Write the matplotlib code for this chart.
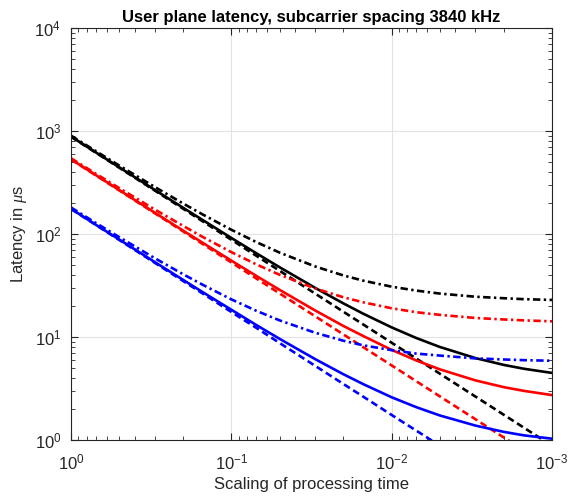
import numpy as np
import matplotlib
matplotlib.use('Agg')
import matplotlib.pyplot as plt

# scaling of processing time
scale = [1, 0.7, 0.5, 0.3, 0.2, 0.15, 0.1, 0.07, 0.05, 0.03, 0.02, 0.015,
         0.01, 0.007, 0.005, 0.003, 0.002, 0.0015, 0.001]

# latency in us
black_solid = [884, 620, 444, 268, 180, 136, 91.6, 65.2, 47.6, 30.0, 21.2, 16.8,
               12.4, 9.76, 8.0, 6.24, 5.36, 4.92, 4.48]
black_dash = [880, 616, 440, 264, 176, 132, 88, 61.6, 44, 26.4, 17.6, 13.2,
              8.8, 6.16, 4.4, 2.64, 1.76, 1.32, 0.88]
black_dashdot = [902, 638, 462, 286, 198, 154, 110, 83.6, 66, 48.4, 39.6, 35.2,
                 30.8, 28.2, 26.4, 24.6, 23.8, 23.3, 22.9]

red_solid = [532, 373, 267, 161, 108, 81.7, 55.2, 39.3, 28.7, 18.1, 12.8, 10.2,
             7.5, 5.91, 4.85, 3.79, 3.26, 3.0, 2.73]
red_dash = [530, 371, 265, 159, 106, 79.5, 53, 37.1, 26.5, 15.9, 10.6, 7.95,
            5.3, 3.71, 2.65, 1.59, 1.06, 0.8, 0.53]
red_dashdot = [544, 385, 279, 173, 120, 93.2, 66.7, 50.8, 40.2, 29.6, 24.3, 21.7,
               19.0, 17.4, 16.4, 15.3, 14.8, 14.5, 14.2]

blue_solid = [176, 123, 88.4, 53.4, 35.9, 27.1, 18.4, 13.1, 9.6, 6.1, 4.35, 3.48,
              2.6, 2.08, 1.73, 1.38, 1.2, 1.11, 1.03]
blue_dash = [175, 122.5, 87.5, 52.5, 35, 26.3, 17.5, 12.3, 8.75, 5.25, 3.5, 2.63,
             1.75, 1.23, 0.88, 0.53, 0.35, 0.26, 0.18]
blue_dashdot = [181, 128, 93.2, 58.2, 40.7, 32.0, 23.2, 18.0, 14.5, 11.0, 9.2, 8.3,
                7.45, 6.9, 6.6, 6.2, 6.05, 5.96, 5.88]

plt.rcParams['font.family'] = ['Liberation Sans', 'DejaVu Sans']
plt.rcParams['mathtext.fontset'] = 'custom'
plt.rcParams['mathtext.it'] = 'Liberation Serif:italic'

fig = plt.figure(figsize=(5.79, 5.0), dpi=100)
ax = fig.add_axes([0.1226, 0.12, 0.8307, 0.824])

lw = 1.9
dash = (2.6, 1.5)
dashdot = (2.8, 1.3, 0.9, 1.3)

series = [
    ('k', black_solid, black_dash, black_dashdot),
    ('r', red_solid, red_dash, red_dashdot),
    ('b', blue_solid, blue_dash, blue_dashdot),
]
for c, s_solid, s_dash, s_dd in series:
    ax.plot(scale, s_solid, color=c, lw=lw, linestyle='-')
    ax.plot(scale, s_dash, color=c, lw=lw, dashes=dash)
    ax.plot(scale, s_dd, color=c, lw=lw, dashes=dashdot)

ax.set_xscale('log')
ax.set_yscale('log')
ax.set_xlim(1, 1e-3)
ax.set_ylim(1, 1e4)

ax.grid(True, which='major', color='#e3e3e3', linewidth=0.8)
ax.set_axisbelow(True)
ax.tick_params(which='both', direction='in', top=True, right=True,
               labelsize=12, colors='#262626')
ax.tick_params(which='major', length=5)
ax.tick_params(which='minor', length=3)
ax.tick_params(axis='x', which='major', pad=9)
ax.tick_params(axis='y', which='major', pad=7)
for sp in ax.spines.values():
    sp.set_color('#262626')
    sp.set_linewidth(0.8)

ax.set_xlabel('Scaling of processing time', fontsize=12, color='#262626',
              labelpad=3)
ax.set_ylabel(r'Latency in $\mu$s', fontsize=12, color='#262626')
ax.set_title('User plane latency, subcarrier spacing 3840 kHz',
             fontsize=12, fontweight='bold', pad=4)

fig.savefig('out.png', dpi=100)
